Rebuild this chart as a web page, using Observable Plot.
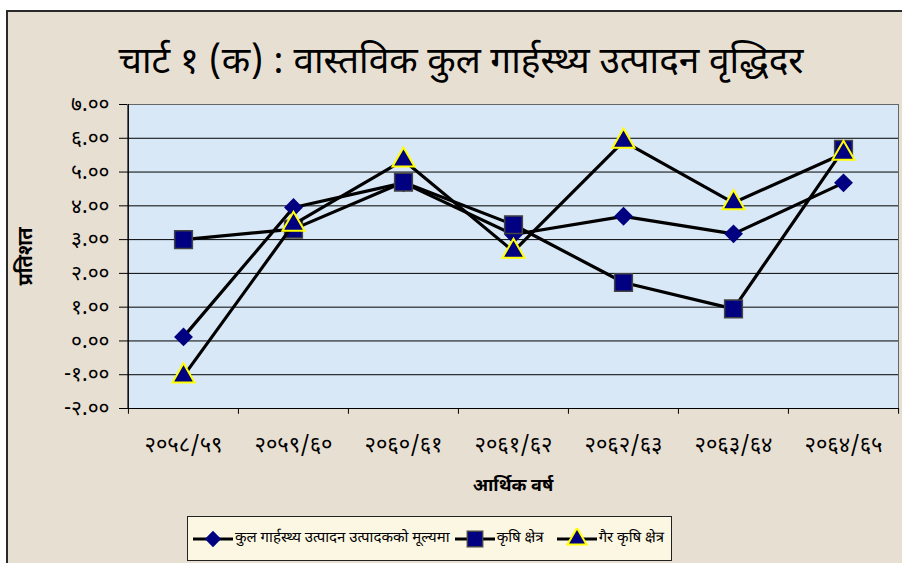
<!DOCTYPE html>
<html><head><meta charset="utf-8">
<script src="https://cdn.jsdelivr.net/npm/d3@7"></script>
<script src="https://cdn.jsdelivr.net/npm/@observablehq/plot@0.6"></script>
<style>
body{margin:0;width:902px;height:563px;overflow:hidden;background:#fff;position:relative;font-family:"Noto Sans Devanagari","Lohit Devanagari","Noto Sans",sans-serif;}
#bg{position:absolute;left:6px;top:10px;width:900px;height:560px;border-left:2px solid #2a2a2a;border-top:2px solid #2a2a2a;background:#e7dfd2;}
#title{position:absolute;left:0;width:922px;top:42px;text-align:center;font-size:37px;line-height:44px;color:#000;}
#chart{position:absolute;left:0;top:90px;}
#legend{position:absolute;left:187px;top:516px;width:483px;height:43px;border:1px solid #222;background:#fcf7e3;display:flex;align-items:center;font-size:15px;color:#000;white-space:nowrap;}
#legend .item{display:flex;align-items:center;}
#legend svg{display:block;}
</style></head>
<body>
<div id="bg"></div>
<div id="title"></div>
<div id="chart"></div>
<div id="legend"></div>
<script>
const titleText = "चार्ट १ (क) : वास्तविक कुल गार्हस्थ्य उत्पादन वृद्धिदर";
const categories = ["२०५८/५९","२०५९/६०","२०६०/६१","२०६१/६२","२०६२/६३","२०६३/६४","२०६४/६५"];
const seriesNames = ["कुल गार्हस्थ्य उत्पादन उत्पादकको मूल्यमा","कृषि क्षेत्र","गैर कृषि क्षेत्र"];
const gdp = [0.12, 3.95, 4.68, 3.15, 3.69, 3.17, 4.68];
const agri = [3.0, 3.31, 4.7, 3.44, 1.73, 0.95, 5.67];
const nonAgri = [-1.04, 3.45, 5.35, 2.65, 5.91, 4.09, 5.55];
const yTicks = [-2,-1,0,1,2,3,4,5,6,7];
const yTickLabels = ["-२.००","-१.००","०.००","१.००","२.००","३.००","४.००","५.००","६.००","७.००"];
const xTitle = "आर्थिक वर्ष";
const yTitle = "प्रतिशत";

document.getElementById("title").textContent = titleText;

const series = [
  {name: seriesNames[0], values: gdp, symbol: "diamond2", r: 8.5, stroke: "none", sw: 0},
  {name: seriesNames[1], values: agri, symbol: "square", r: 10, stroke: "#444", sw: 1.5},
  {name: seriesNames[2], values: nonAgri, symbol: "triangle", r: 8.2, stroke: "#ffff00", sw: 2}
];
const fillMarker = "#000080";
const W = 902, H = 420, mL = 127, mR = 4, mT = 14, mB = 102;
const half = (W - mL - mR) / categories.length / 2;

const marks = [
  Plot.frame({fill: "#d9e8f7", stroke: "#666"}),
  Plot.ruleY(yTicks.slice(1, -1), {stroke: "#000", strokeWidth: 1}),
  Plot.ruleY([-2], {stroke: "#000"}),
  Plot.ruleX([categories[0]], {dx: -half, y1: -2, y2: 7, stroke: "#000"}),
  Plot.ruleX(categories, {x: d => d, y1: -2, y2: -2.17, dx: -half, stroke: "#000"}),
  Plot.ruleX([categories[categories.length - 1]], {x: d => d, y1: -2, y2: -2.17, dx: half, stroke: "#000"}),
  Plot.axisY(yTicks, {tickFormat: (d) => yTickLabels[yTicks.indexOf(d)], tickSize: 8, tickPadding: 10, fontSize: 21, label: null, ariaLabel: "yticks"}),
  Plot.axisX({tickSize: 0, tickPadding: 28, fontSize: 22, label: null, ariaLabel: "xticks"}),
  Plot.text([xTitle], {frameAnchor: "bottom", dy: 82, fontWeight: "bold", fontSize: 18}),
  Plot.text([yTitle], {frameAnchor: "left", dx: -102, rotate: -90, textAnchor: "middle", fontWeight: "bold", fontSize: 20})
];
for (const s of series) {
  marks.push(Plot.line(categories, {x: d => d, y: (d, i) => s.values[i], stroke: "#000", strokeWidth: 3.2}));
  marks.push(Plot.dot(categories, {x: d => d, y: (d, i) => s.values[i], symbol: s.symbol, r: s.r, fill: fillMarker, stroke: s.stroke, strokeWidth: s.sw}));
}

const chart = Plot.plot({
  width: W, height: H,
  marginLeft: mL, marginRight: mR, marginTop: mT, marginBottom: mB,
  style: {background: "transparent", fontFamily: '"Noto Sans Devanagari","Lohit Devanagari","Noto Sans",sans-serif', color: "#000"},
  x: {type: "point", domain: categories, padding: 0.5, axis: null},
  y: {domain: [-2, 7], axis: null},
  marks
});
d3.select(chart).selectAll('g[aria-label="xticks"] text').style("letter-spacing", "2.2px");
d3.select(chart).selectAll('g[aria-label="yticks"] text').style("letter-spacing", "1.5px");
document.getElementById("chart").appendChild(chart);

// legend
const legend = document.getElementById("legend");
const symPaths = {diamond2: d3.symbolDiamond2, square: d3.symbolSquare, triangle: d3.symbolTriangle};
const gaps = [5, 5, 13];
series.forEach((s, k) => {
  const item = document.createElement("div");
  item.className = "item";
  item.style.marginLeft = gaps[k] + "px";
  const svg = d3.create("svg").attr("width", 40).attr("height", 22);
  svg.append("line").attr("x1", 0).attr("x2", 40).attr("y1", 11).attr("y2", 11).attr("stroke", "#000").attr("stroke-width", 3.2);
  svg.append("path").attr("transform", "translate(20,11)")
    .attr("d", d3.symbol(symPaths[s.symbol], s.r * s.r * Math.PI * 0.75)())
    .attr("fill", fillMarker).attr("stroke", s.stroke).attr("stroke-width", s.sw);
  item.appendChild(svg.node());
  const t = document.createElement("span");
  t.textContent = s.name;
  t.style.marginLeft = "2px";
  item.appendChild(t);
  legend.appendChild(item);
});
</script>
</body></html>
